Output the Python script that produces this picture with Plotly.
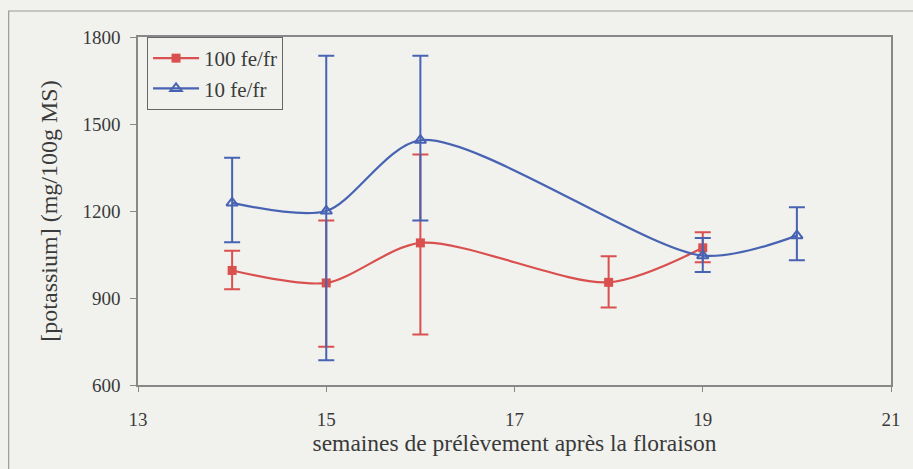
import plotly.graph_objects as go

# Data
x_red = [14, 15, 16, 18, 19]
y_red = [995, 952, 1090, 954, 1073]
err_red_plus = [68, 215, 305, 90, 54]
err_red_minus = [65, 220, 316, 87, 50]

x_blue = [14, 15, 16, 19, 20]
y_blue = [1228, 1200, 1444, 1046, 1115]
err_blue_plus = [156, 535, 291, 61, 98]
err_blue_minus = [136, 515, 277, 56, 85]

red = "#d9504f"
blue = "#4763b2"
font = "Times New Roman"
txt = "#3a3a3a"

fig = go.Figure()
fig.add_trace(go.Scatter(
    x=x_red, y=y_red, mode="lines+markers", name="100 fe/fr",
    line=dict(color=red, width=2.2, shape="spline", smoothing=0.8),
    marker=dict(symbol="square", size=9, color=red),
    error_y=dict(type="data", symmetric=False, array=err_red_plus,
                 arrayminus=err_red_minus, color=red, thickness=2, width=8),
))
fig.add_trace(go.Scatter(
    x=x_blue, y=y_blue, mode="lines+markers", name="10 fe/fr",
    line=dict(color=blue, width=2.2, shape="spline", smoothing=0.8),
    marker=dict(symbol="triangle-up-open", size=10, color=blue, line=dict(width=2)),
    error_y=dict(type="data", symmetric=False, array=err_blue_plus,
                 arrayminus=err_blue_minus, color=blue, thickness=2, width=8),
))

fig.update_layout(
    width=913, height=469,
    margin=dict(l=138, r=18, t=37, b=84),
    paper_bgcolor="#f1f2ee", plot_bgcolor="#f1f2ee",
    font=dict(family=font, size=18, color=txt),
    showlegend=True,
    legend=dict(x=0.012, y=1.0, xanchor="left", yanchor="top",
                bordercolor="#666666", borderwidth=1, bgcolor="#f1f2ee",
                font=dict(family=font, size=21, color=txt),
                tracegroupgap=0, itemwidth=46),
    xaxis=dict(range=[13, 21], dtick=2, tick0=13, showgrid=False, zeroline=False,
               showline=True, linecolor="#888888", linewidth=1.5, mirror=True,
               ticks="outside", ticklen=5, tickcolor="#888888",
               ticklabelstandoff=11,
               tickfont=dict(family=font, size=19, color=txt),
               title=dict(text="semaines de prélèvement après la floraison",
                          font=dict(family=font, size=23.5, color=txt), standoff=2)),
    yaxis=dict(range=[600, 1800], dtick=300, tick0=600, showgrid=False, zeroline=False,
               showline=True, linecolor="#888888", linewidth=1.5, mirror=True,
               ticks="outside", ticklen=6, tickcolor="#888888",
               ticklabelstandoff=6,
               tickfont=dict(family=font, size=19, color=txt),
               title=dict(text="[potassium] (mg/100g MS)",
                          font=dict(family=font, size=24, color=txt), standoff=18)),
    shapes=[dict(type="rect", xref="paper", yref="paper",
                 x0=-(138 - 8) / 757, x1=1.1,
                 y0=-(84 + 100) / 348, y1=1 + (37 - 11) / 348,
                 line=dict(color="#999999", width=1.2), fillcolor="rgba(0,0,0,0)",
                 layer="below")],
)

fig.write_html("out.html")
